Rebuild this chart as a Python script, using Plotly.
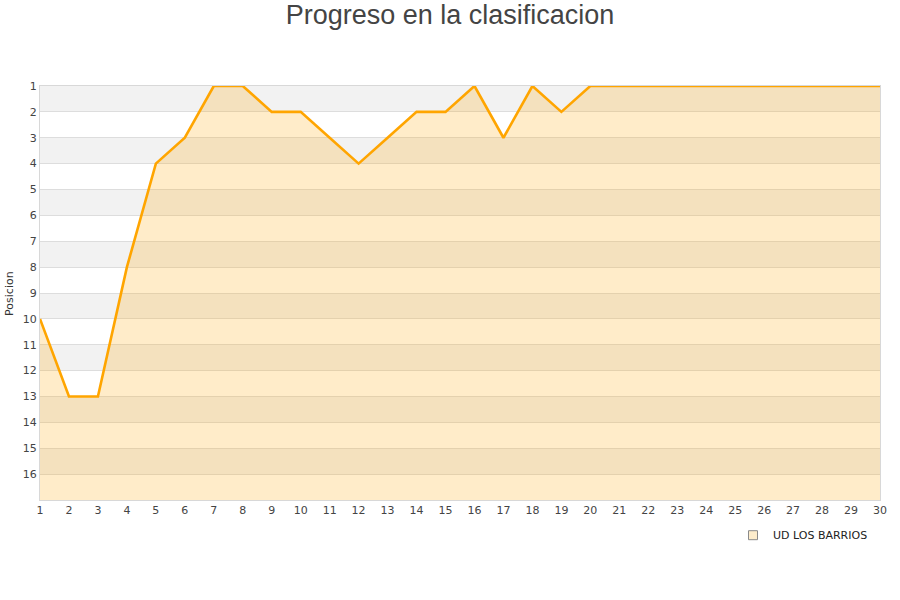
import plotly.graph_objects as go

jornadas = list(range(1, 31))
posiciones = [10, 13, 13, 8, 4, 3, 1, 1, 2, 2, 3, 4, 3, 2, 2, 1, 3, 1, 2, 1,
              1, 1, 1, 1, 1, 1, 1, 1, 1, 1]
y_ticks = list(range(1, 17))
equipo = "UD LOS BARRIOS"
titulo = "Progreso en la clasificacion"
fondo = 17

fig = go.Figure()

# baseline for fill
fig.add_trace(go.Scatter(x=jornadas, y=[fondo] * len(jornadas), mode="lines",
                         line=dict(width=0, color="rgba(0,0,0,0)"),
                         showlegend=False, hoverinfo="skip"))
fig.add_trace(go.Scatter(x=jornadas, y=posiciones, mode="lines",
                         line=dict(color="#ffa500", width=2.6),
                         fill="tonexty", fillcolor="rgba(255,165,0,0.21)",
                         showlegend=False, name=equipo))
# legend item
fig.add_trace(go.Scatter(x=[None], y=[None], mode="markers", name=equipo,
                         marker=dict(symbol="square", size=9,
                                     color="#fdeccb",
                                     line=dict(color="#8a8a8a", width=1))))

shapes = []
for k in range(1, fondo, 2):
    shapes.append(dict(type="rect", xref="paper", yref="y", x0=0, x1=1,
                       y0=k, y1=k + 1, fillcolor="#f2f2f2", line=dict(width=0),
                       layer="below"))

fig.update_layout(
    width=900, height=600,
    margin=dict(l=40, r=20, t=86, b=100, autoexpand=False),
    paper_bgcolor="white", plot_bgcolor="white",
    title=dict(text=titulo, x=0.5, xanchor="center", y=0.975, yanchor="middle",
               font=dict(family="Liberation Sans, Arial", size=27, color="#444444")),
    font=dict(family="DejaVu Sans", size=11, color="#444444"),
    shapes=shapes,
    annotations=[dict(text="Posicion", xref="paper", yref="paper", x=-0.037, y=0.5,
                      xanchor="center", yanchor="middle", textangle=-90,
                      showarrow=False, font=dict(size=11, color="#333333"))],
    showlegend=True,
    legend=dict(x=0.825, xanchor="left", y=-0.05, yanchor="top",
                font=dict(family="DejaVu Sans", size=11, color="#222222"),
                bgcolor="rgba(0,0,0,0)", itemwidth=30),
    xaxis=dict(range=[1, 30], tickmode="array", tickvals=jornadas,
               showgrid=False, zeroline=False, showline=True, mirror=True,
               linecolor="#d8d8d8", linewidth=1, ticks="", automargin=False,
               tickfont=dict(size=11, color="#444444")),
    yaxis=dict(range=[fondo, 1], tickmode="array", tickvals=y_ticks,
               showgrid=True, gridcolor="#dddddd", gridwidth=1,
               zeroline=False, showline=True, mirror=True,
               linecolor="#d8d8d8", linewidth=1, ticks="", automargin=False,
               tickfont=dict(size=11, color="#444444")),
)

fig.write_html("out.html", config={"displayModeBar": False},
               post_script="document.body.style.margin='0';")
